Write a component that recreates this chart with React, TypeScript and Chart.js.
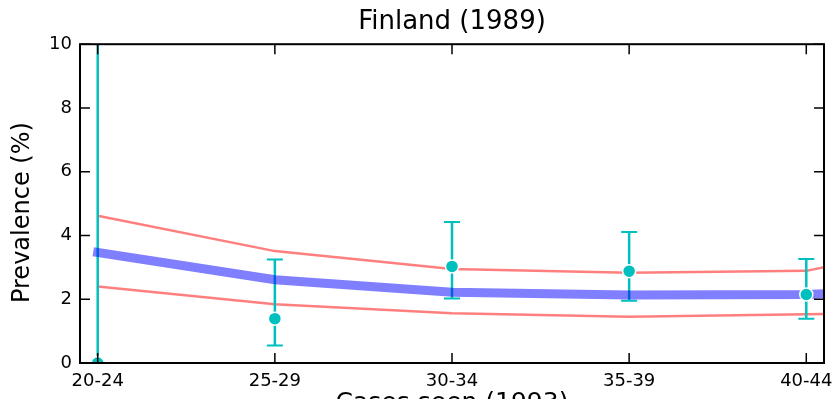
import React, { useEffect, useRef } from 'react';
import { Chart, registerables } from 'chart.js';

Chart.register(...registerables);

// Age groups (x categories); the model curves continue one group past the axis edge
const categories = ['20-24', '25-29', '30-34', '35-39', '40-44'];
const modelCategories = ['20-24', '25-29', '30-34', '35-39', '40-44', '45-49'];

// Observed prevalence (%) with error bars
const observed = [0.0, 1.39, 3.03, 2.88, 2.15];
const observedLow = [-0.5, 0.55, 2.02, 1.95, 1.39];
const observedHigh = [12.0, 3.25, 4.42, 4.11, 3.26];

// Model estimate and its bounds (%)
const modelMid = [3.47, 2.61, 2.22, 2.13, 2.15, 2.35];
const modelUpper = [4.62, 3.51, 2.95, 2.83, 2.89, 4.0];
const modelLower = [2.4, 1.84, 1.56, 1.45, 1.53, 1.58];

const yTicks = [0, 2, 4, 6, 8, 10];

const yLabel = 'Prevalence (%)';

const FONT = "'DejaVu Sans', sans-serif";
const CYAN = '#00BFBF';

const errorBarPlugin = {
  id: 'errorBars',
  beforeDatasetDraw(chart: any, args: any) {
    if (args.meta.label !== 'model') return;
    const { ctx, chartArea, scales } = chart;
    const x = scales.x;
    const y = scales.y;
    ctx.save();
    ctx.beginPath();
    ctx.rect(chartArea.left, chartArea.top, chartArea.right - chartArea.left, chartArea.bottom - chartArea.top);
    ctx.clip();
    ctx.strokeStyle = CYAN;
    categories.forEach((_, i) => {
      const px = x.getPixelForValue(i);
      const lo = y.getPixelForValue(observedLow[i]);
      const hi = y.getPixelForValue(observedHigh[i]);
      ctx.lineWidth = 2.5;
      ctx.beginPath();
      ctx.moveTo(px, lo);
      ctx.lineTo(px, hi);
      ctx.stroke();
      ctx.lineWidth = 2;
      ctx.beginPath();
      ctx.moveTo(px - 8, lo);
      ctx.lineTo(px + 8, lo);
      ctx.moveTo(px - 8, hi);
      ctx.lineTo(px + 8, hi);
      ctx.stroke();
    });
    ctx.restore();
  },
};

const framePlugin = {
  id: 'frame',
  afterDraw(chart: any) {
    const { ctx, chartArea, scales } = chart;
    const { left, right, top, bottom } = chartArea;
    const x = scales.x;
    const y = scales.y;
    ctx.save();
    ctx.strokeStyle = '#000';
    ctx.lineWidth = 1.5;
    const tl = 10;
    ctx.beginPath();
    categories.forEach((_, i) => {
      const px = x.getPixelForValue(i);
      ctx.moveTo(px, bottom);
      ctx.lineTo(px, bottom - tl);
      ctx.moveTo(px, top);
      ctx.lineTo(px, top + tl);
    });
    yTicks.forEach((v) => {
      const py = y.getPixelForValue(v);
      ctx.moveTo(left, py);
      ctx.lineTo(left + tl, py);
      ctx.moveTo(right, py);
      ctx.lineTo(right - tl, py);
    });
    ctx.stroke();
    ctx.lineWidth = 2;
    ctx.strokeRect(left, top, right - left, bottom - top);

    // y-axis label
    ctx.fillStyle = '#000';
    ctx.font = `24px ${FONT}`;
    ctx.textAlign = 'center';
    ctx.textBaseline = 'middle';
    ctx.translate(23, (top + bottom) / 2 + 9);
    ctx.rotate(-Math.PI / 2);
    ctx.fillText(yLabel, 0, 0);
    ctx.restore();
  },
};

export default function App() {
  const ref = useRef<HTMLCanvasElement | null>(null);

  useEffect(() => {
    if (!ref.current) return;
    const toPts = (arr: number[]) => arr.map((v, i) => ({ x: i, y: v }));
    const chart = new Chart(ref.current, {
      type: 'line',
      data: {
        datasets: [
          {
            label: 'upper',
            data: toPts(modelUpper),
            borderColor: 'rgba(255,0,0,0.5)',
            borderWidth: 2.5,
            pointRadius: 0,
            fill: false,
            order: 4,
            clip: 0,
          },
          {
            label: 'lower',
            data: toPts(modelLower),
            borderColor: 'rgba(255,0,0,0.5)',
            borderWidth: 2.5,
            pointRadius: 0,
            fill: false,
            order: 3,
            clip: 0,
          },
          {
            label: 'model',
            data: toPts(modelMid),
            borderColor: 'rgba(0,0,255,0.5)',
            borderWidth: 9,
            borderCapStyle: 'square',
            pointRadius: 0,
            fill: false,
            order: 2,
            clip: 0,
          },
          {
            label: 'observed',
            data: toPts(observed),
            showLine: false,
            pointRadius: 6.5,
            pointBackgroundColor: CYAN,
            pointBorderColor: '#fff',
            pointBorderWidth: 1.5,
            order: 1,
            clip: 0,
          },
        ] as any,
      },
      options: {
        animation: false,
        responsive: false,
        devicePixelRatio: 1,
        layout: { padding: { left: 0, right: 13, top: 0, bottom: 0 } },
        plugins: {
          legend: { display: false },
          tooltip: { enabled: false },
          title: {
            display: true,
            fullSize: false,
            text: 'Finland (1989)',
            color: '#000',
            font: { family: FONT, size: 26, weight: 'normal' },
            padding: { top: 7, bottom: 6 },
          },
        },
        scales: {
          x: {
            type: 'linear',
            min: -0.1,
            max: 4.1,
            afterBuildTicks: (s: any) => {
              s.ticks = categories.map((_, i) => ({ value: i }));
            },
            afterFit: (s: any) => {
              s.height = 67;
              s.paddingLeft = 0;
              s.paddingRight = 0;
            },
            ticks: {
              color: '#000',
              font: { family: FONT, size: 18 },
              padding: 8,
              maxRotation: 0,
              autoSkip: false,
              callback: (v: any) => modelCategories[Math.round(v)] ?? '',
            },
            grid: { display: false, drawTicks: false },
            border: { display: false },
            title: {
              display: true,
              text: 'Cases seen (1993)',
              color: '#000',
              font: { family: FONT, size: 25 },
              padding: { top: 0, bottom: 12 },
            },
          },
          y: {
            type: 'linear',
            min: 0,
            max: 10,
            afterBuildTicks: (s: any) => {
              s.ticks = yTicks.map((v) => ({ value: v }));
            },
            afterFit: (s: any) => {
              s.width = 80;
              s.paddingTop = 0;
              s.paddingBottom = 0;
            },
            ticks: {
              color: '#000',
              font: { family: FONT, size: 18 },
              padding: 8,
            },
            grid: { display: false, drawTicks: false },
            border: { display: false },
          },
        },
      },
      plugins: [errorBarPlugin, framePlugin],
    });
    return () => chart.destroy();
  }, []);

  return (
    <div style={{ position: 'fixed', left: 0, top: 0, width: 837, height: 430, background: '#fff' }}>
      <canvas ref={ref} width={837} height={430} style={{ display: 'block' }} />
    </div>
  );
}
